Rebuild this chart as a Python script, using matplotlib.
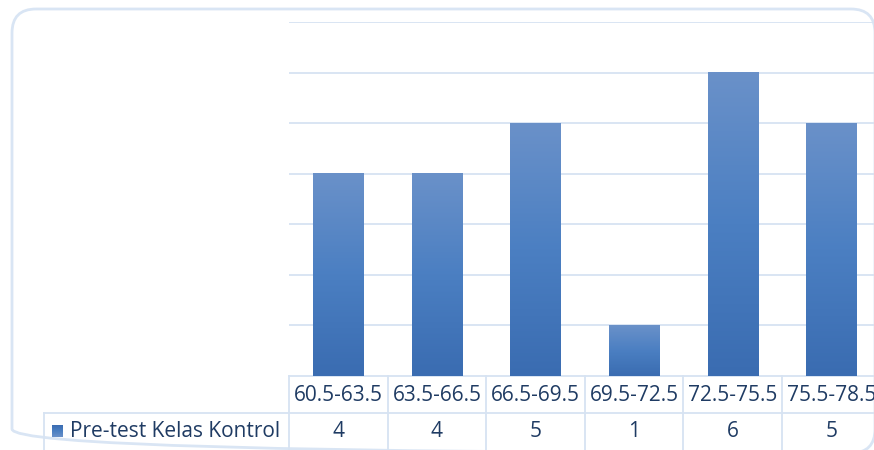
import matplotlib
matplotlib.use("Agg")
import matplotlib.pyplot as plt
import numpy as np
from matplotlib.patches import FancyBboxPatch
from matplotlib.colors import LinearSegmentedColormap

categories = ["60.5-63.5", "63.5-66.5", "66.5-69.5", "69.5-72.5", "72.5-75.5", "75.5-78.5"]
values = [4, 4, 5, 1, 6, 5]
series_name = "Pre-test Kelas Kontrol"

W, H = 874, 450
DPI = 100
TEXT = "#1f3b63"
GRID = "#d7e3f2"
FONT = "Open Sans"
FS = 15

plt.rcParams["font.family"] = [FONT, "DejaVu Sans"]

fig = plt.figure(figsize=(W / DPI, H / DPI), dpi=DPI)

# overlay in pixel coordinates (y downwards) for frame and table
ov = fig.add_axes([0, 0, 1, 1])
ov.set_xlim(0, W)
ov.set_ylim(H, 0)
ov.axis("off")

# plot area
px_left, px_top, px_bottom = 289, 22, 376
cat_w = 98.6
n = len(categories)
ax = fig.add_axes([px_left / W, (H - px_bottom) / H,
                   n * cat_w / W, (px_bottom - px_top) / H])
ax.patch.set_alpha(0)
for s in ax.spines.values():
    s.set_visible(False)
ax.set_xticks([])
ax.set_yticks(np.arange(1, 8))
ax.tick_params(left=False, labelleft=False)
ax.grid(axis="y", color=GRID, linewidth=1.3)
ax.set_axisbelow(True)

bar_cmap = LinearSegmentedColormap.from_list(
    "bar", ["#3a6cb1", "#4b7fc2", "#6a91c9"])
grad = np.linspace(0, 1, 256).reshape(-1, 1)

bars = ax.bar(range(n), values, width=0.51, color="none", edgecolor="none")
for b in bars:
    x0, w, h = b.get_x(), b.get_width(), b.get_height()
    ax.imshow(grad, cmap=bar_cmap, origin="lower", aspect="auto",
              extent=[x0, x0 + w, 0, h], zorder=2, interpolation="bilinear")
ax.set_xlim(-0.5, n - 0.5)
ax.set_ylim(0, 7)

# rounded outer frame
frame = FancyBboxPatch((12, 9), 863, 444, boxstyle="round,pad=0,rounding_size=24",
                       fill=False, edgecolor="#d9e5f4", linewidth=2, zorder=0)
ov.add_patch(frame)

# data table
row1_top, row2_top, row2_bot = 376, 413, 452
legend_left = 44
bounds = [px_left + i * cat_w for i in range(n + 1)]
lw = 1.3
ov.plot([px_left, bounds[-1]], [row1_top, row1_top], color=GRID, lw=lw, zorder=3)
ov.plot([legend_left, bounds[-1]], [row2_top, row2_top], color=GRID, lw=lw)
ov.plot([legend_left, legend_left], [row2_top, row2_bot], color=GRID, lw=lw)
for xb in bounds:
    ov.plot([xb, xb], [row1_top, row2_bot], color=GRID, lw=lw)

for i, (c, v) in enumerate(zip(categories, values)):
    xc = px_left + (i + 0.5) * cat_w
    ov.text(xc, (row1_top + row2_top) / 2 + 1, c, ha="center", va="center",
            fontsize=FS, color=TEXT)
    ov.text(xc, (row2_top + row2_bot) / 2 - 1, str(v), ha="center", va="center",
            fontsize=FS, color=TEXT)

# legend key with gradient
ov.imshow(grad, cmap=bar_cmap, origin="upper", aspect="auto",
          extent=[52, 63, 437, 425], zorder=3, interpolation="bilinear")
ov.set_xlim(0, W)
ov.set_ylim(H, 0)
ov.text(70, (row2_top + row2_bot) / 2 - 1, series_name, ha="left", va="center",
        fontsize=FS, color=TEXT)

fig.savefig("out.png", dpi=DPI)
